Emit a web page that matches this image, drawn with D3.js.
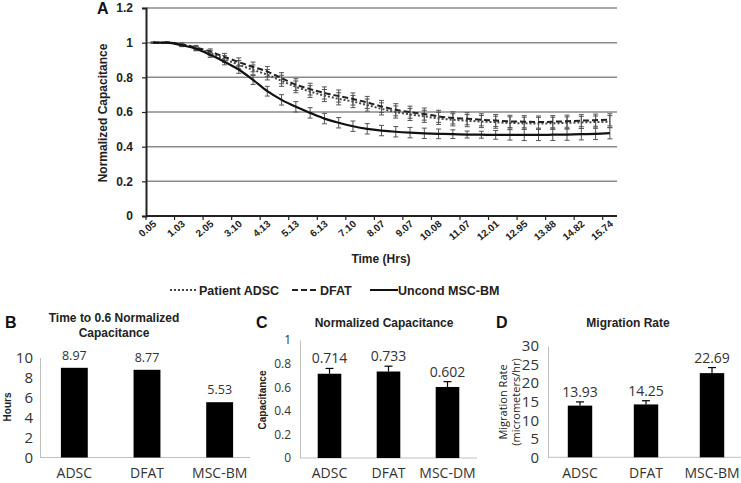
<!DOCTYPE html>
<html><head><meta charset="utf-8">
<script src="https://cdn.jsdelivr.net/npm/d3@7"></script>
<style>body{margin:0;background:#fff}svg{display:block}</style>
</head><body><svg id="c" width="741" height="483"></svg>
<script>
// ---------- Panel A data ----------
const times = [0.05,0.54,1.03,1.54,2.05,2.58,3.10,3.62,4.13,4.63,5.13,5.63,6.13,6.62,7.10,7.59,8.07,8.57,9.07,9.58,10.08,10.58,11.07,11.54,12.01,12.48,12.95,13.42,13.88,14.35,14.82,15.28,15.74];
const adscValues = [1.0,1.0,0.988,0.968,0.94,0.905,0.873,0.843,0.815,0.78,0.745,0.718,0.695,0.676,0.66,0.64,0.618,0.6,0.586,0.575,0.563,0.555,0.55,0.545,0.541,0.537,0.535,0.534,0.535,0.537,0.54,0.542,0.544];
const adscErr = [0.003,0.004,0.008,0.012,0.016,0.02,0.024,0.028,0.03,0.032,0.034,0.034,0.035,0.035,0.035,0.035,0.035,0.035,0.035,0.035,0.035,0.035,0.035,0.035,0.035,0.035,0.035,0.035,0.035,0.035,0.035,0.035,0.035];
const dfatValues = [1.0,1.0,0.99,0.972,0.948,0.918,0.888,0.86,0.833,0.795,0.758,0.732,0.71,0.692,0.675,0.655,0.632,0.613,0.599,0.588,0.575,0.566,0.561,0.555,0.551,0.546,0.544,0.542,0.544,0.547,0.55,0.553,0.555];
const dfatErr = [0.003,0.004,0.008,0.012,0.016,0.02,0.024,0.028,0.03,0.032,0.034,0.034,0.035,0.035,0.035,0.035,0.035,0.035,0.035,0.035,0.035,0.035,0.035,0.035,0.035,0.035,0.035,0.035,0.035,0.035,0.035,0.035,0.035];
const mscValues = [1.0,1.0,0.985,0.965,0.93,0.89,0.845,0.785,0.72,0.67,0.63,0.595,0.562,0.538,0.518,0.503,0.493,0.486,0.481,0.477,0.474,0.472,0.47,0.469,0.468,0.468,0.468,0.468,0.469,0.47,0.472,0.474,0.478];
const mscErr = [0.003,0.004,0.008,0.012,0.015,0.018,0.022,0.026,0.028,0.03,0.03,0.03,0.03,0.03,0.03,0.03,0.03,0.03,0.03,0.03,0.028,0.025,0.02,0.02,0.025,0.03,0.033,0.033,0.033,0.033,0.033,0.033,0.033];
const yTicksA = [0,0.2,0.4,0.6,0.8,1,1.2];
const seriesNames = ["Patient ADSC","DFAT","Uncond MSC-BM"];

// ---------- Panels B, C, D data ----------
const catsB = ["ADSC","DFAT","MSC-BM"];
const valsB = [8.97,8.77,5.53];
const ticksB = [0,2,4,6,8,10];
const catsC = ["ADSC","DFAT","MSC-DM"];
const valsC = [0.714,0.733,0.602];
const errC = [0.045,0.045,0.045];
const ticksC = [0,0.2,0.4,0.6,0.8,1];
const catsD = ["ADSC","DFAT","MSC-BM"];
const valsD = [13.93,14.25,22.69];
const errD = [1.0,1.0,1.5];
const ticksD = [0,5,10,15,20,25,30];

const svg = d3.select("#c");
const ARIAL = "'Liberation Sans', Arial, sans-serif";
const CAL = "'Open Sans', Calibri, sans-serif";

// ================= Panel A =================
const xA = d3.scaleBand().domain(d3.range(times.length)).range([146, 617]).paddingInner(0).paddingOuter(0);
const yA = d3.scaleLinear().domain([0, 1.2]).range([216, 8]);
const gA = svg.append("g");

gA.selectAll("line.grid").data(yTicksA.filter(d => d > 0)).join("line")
  .attr("x1", 146).attr("x2", 617).attr("y1", d => yA(d)).attr("y2", d => yA(d))
  .attr("stroke", "#8a8a8a").attr("stroke-width", 1.5);

const yAxisA = d3.axisLeft(yA).tickValues(yTicksA).tickSize(4).tickPadding(9)
  .tickFormat(d => d === 0 ? "0" : d3.format("")(d));
const gy = gA.append("g").attr("transform", "translate(146,0)").call(yAxisA);
gy.select(".domain").attr("stroke", "#222").attr("stroke-width", 2);
gy.selectAll(".tick line").attr("stroke", "#222").attr("stroke-width", 1.2);
gy.selectAll("text").attr("font-family", ARIAL).attr("font-weight", "bold").attr("font-size", 12).attr("fill", "#222");

const xAxisA = d3.axisBottom(xA).tickValues(d3.range(0, times.length, 2)).tickSize(4).tickFormat("");
const gx = gA.append("g").attr("transform", "translate(0,216)").call(xAxisA);
gx.select(".domain").attr("stroke", "#222").attr("stroke-width", 2).attr("d", "M146,0H617");
gx.selectAll(".tick").attr("transform", d => `translate(${xA(d)},0)`);
gx.selectAll(".tick line").attr("stroke", "#222").attr("stroke-width", 1.2);
gA.selectAll("text.xl").data(d3.range(0, times.length, 2)).join("text")
  .attr("transform", d => `translate(${xA(d) + xA.bandwidth()/2 + 4},${225}) rotate(-40)`)
  .attr("text-anchor", "end").attr("font-family", ARIAL).attr("font-weight", "bold")
  .attr("font-size", 10).attr("fill", "#222")
  .text(d => times[d].toFixed(2));

gA.append("text").attr("transform", "translate(107,113) rotate(-90)").attr("text-anchor", "middle")
  .attr("font-family", ARIAL).attr("font-weight", "bold").attr("font-size", 12).attr("fill", "#222")
  .text("Normalized Capacitance");
gA.append("text").attr("x", 381).attr("y", 263).attr("text-anchor", "middle")
  .attr("font-family", ARIAL).attr("font-weight", "bold").attr("font-size", 12).attr("fill", "#222")
  .text("Time (Hrs)");
gA.append("text").attr("x", 97).attr("y", 14).attr("font-family", ARIAL).attr("font-weight", "bold")
  .attr("font-size", 16).attr("fill", "#111").text("A");

const series = [
  {name: seriesNames[0], vals: adscValues, err: adscErr, dash: "2,2", color: "#444", w: 2},
  {name: seriesNames[1], vals: dfatValues, err: dfatErr, dash: "6,3", color: "#222", w: 2},
  {name: seriesNames[2], vals: mscValues, err: mscErr, dash: null, color: "#111", w: 2.2}
];
const cx = i => xA(i) + xA.bandwidth() / 2;
series.forEach(s => {
  const g = gA.append("g");
  s.vals.forEach((v, i) => {
    const e = s.err[i];
    g.append("line").attr("x1", cx(i)).attr("x2", cx(i)).attr("y1", yA(v - e)).attr("y2", yA(v + e))
      .attr("stroke", "#555").attr("stroke-width", 1);
    [v - e, v + e].forEach(t => g.append("line").attr("x1", cx(i) - 2.5).attr("x2", cx(i) + 2.5)
      .attr("y1", yA(t)).attr("y2", yA(t)).attr("stroke", "#555").attr("stroke-width", 1));
  });
  const line = d3.line().x((d, i) => cx(i)).y(d => yA(d)).curve(d3.curveMonotoneX);
  const p = g.append("path").attr("d", line(s.vals)).attr("fill", "none")
    .attr("stroke", s.color).attr("stroke-width", s.w);
  if (s.dash) p.attr("stroke-dasharray", s.dash);
});

const legend = [
  {x1: 170, x2: 196, tx: 199, dash: "2,2", color: "#444", name: seriesNames[0]},
  {x1: 292, x2: 317, tx: 320, dash: "6,3", color: "#222", name: seriesNames[1]},
  {x1: 370, x2: 398, tx: 398, dash: null, color: "#111", name: seriesNames[2]}
];
legend.forEach(l => {
  const ln = svg.append("line").attr("x1", l.x1).attr("x2", l.x2).attr("y1", 290).attr("y2", 290)
    .attr("stroke", l.color).attr("stroke-width", 2);
  if (l.dash) ln.attr("stroke-dasharray", l.dash);
  svg.append("text").attr("x", l.tx).attr("y", 294.5).attr("font-family", ARIAL).attr("font-weight", "bold")
    .attr("font-size", 12.5).attr("fill", "#222").text(l.name);
});

// ================= Bar panels =================
function barPanel(cfg) {
  const g = svg.append("g");
  const x = d3.scaleBand().domain(cfg.cats).range(cfg.xr).paddingInner(cfg.pad).paddingOuter(cfg.pad / 2);
  const y = d3.scaleLinear().domain(cfg.ydom).range(cfg.yr);
  const ay = d3.axisLeft(y).tickValues(cfg.ticks).tickSize(0).tickPadding(cfg.tp).tickFormat(cfg.fmt);
  const gy = g.append("g").attr("transform", `translate(${cfg.axisX},0)`).call(ay);
  gy.select(".domain").attr("stroke", "#bfbfbf").attr("stroke-width", 1);
  gy.selectAll("text").attr("font-family", CAL).attr("font-size", cfg.tfs).attr("fill", "#333");
  g.append("line").attr("x1", cfg.axisX).attr("x2", cfg.axisEnd).attr("y1", y(0)).attr("y2", y(0))
    .attr("stroke", "#bfbfbf").attr("stroke-width", 1);
  g.selectAll("rect").data(cfg.vals).join("rect")
    .attr("x", (d, i) => x(cfg.cats[i])).attr("width", x.bandwidth())
    .attr("y", d => y(d)).attr("height", d => y(0) - y(d)).attr("fill", "#000");
  if (cfg.err) {
    cfg.vals.forEach((v, i) => {
      const c = x(cfg.cats[i]) + x.bandwidth() / 2;
      g.append("line").attr("x1", c).attr("x2", c).attr("y1", y(v)).attr("y2", y(v + cfg.err[i]))
        .attr("stroke", "#000").attr("stroke-width", 1.2);
      g.append("line").attr("x1", c - 4).attr("x2", c + 4).attr("y1", y(v + cfg.err[i])).attr("y2", y(v + cfg.err[i]))
        .attr("stroke", "#000").attr("stroke-width", 1.2);
    });
  }
  g.selectAll("text.val").data(cfg.vals).join("text")
    .attr("x", (d, i) => x(cfg.cats[i]) + x.bandwidth() / 2)
    .attr("y", (d, i) => y(d + (cfg.err ? cfg.err[i] : 0)) - cfg.lblOff)
    .attr("text-anchor", "middle").attr("font-family", CAL).attr("font-size", cfg.vfs).attr("fill", "#333")
    .text(d => cfg.vfmt(d));
  g.selectAll("text.cat").data(cfg.cats).join("text")
    .attr("x", d => x(d) + x.bandwidth() / 2).attr("y", cfg.catY)
    .attr("text-anchor", "middle").attr("font-family", CAL).attr("font-size", cfg.cfs).attr("fill", "#333")
    .text(d => d);
  cfg.title.forEach((t, k) => g.append("text").attr("x", cfg.titleX).attr("y", cfg.titleY + k * 15)
    .attr("text-anchor", "middle").attr("font-family", ARIAL).attr("font-weight", "bold")
    .attr("font-size", 12).attr("fill", "#222").text(t));
  g.append("text").attr("x", cfg.letterX).attr("y", 328).attr("font-family", ARIAL).attr("font-weight", "bold")
    .attr("font-size", 16).attr("fill", "#111").text(cfg.letter);
  cfg.ylab.forEach((t, k) => g.append("text")
    .attr("transform", `translate(${cfg.ylabX + k * 13},${cfg.ylabY}) rotate(-90)`).attr("text-anchor", "middle")
    .attr("font-family", cfg.ylabBold ? ARIAL : CAL).attr("font-weight", cfg.ylabBold ? "bold" : "normal")
    .attr("font-size", cfg.ylabFs).attr("fill", "#222").text(t));
}

barPanel({cats: catsB, vals: valsB, err: null, xr: [38, 256], pad: 0.63, ydom: [0, 10], yr: [457.5, 357.5],
  ticks: ticksB, fmt: d3.format("d"), tp: 7, axisX: 40, axisEnd: 250, tfs: 15, vfs: 12.5, vfmt: d3.format(".2f"),
  lblOff: 8, catY: 478, cfs: 14, title: ["Time to 0.6 Normalized", "Capacitance"], titleX: 114, titleY: 322,
  letter: "B", letterX: 5, ylab: ["Hours"], ylabX: 11, ylabY: 407, ylabBold: true, ylabFs: 10});

barPanel({cats: catsC, vals: valsC, err: errC, xr: [300, 477], pad: 0.6, ydom: [0, 1], yr: [458, 340],
  ticks: ticksC, fmt: d => d === 0 ? "0" : d === 1 ? "1" : d3.format(".1f")(d), tp: 9, axisX: 300, axisEnd: 477, tfs: 12,
  vfs: 14, vfmt: d3.format(".3f"), lblOff: 5, catY: 478, cfs: 14, title: ["Normalized Capacitance"], titleX: 384,
  titleY: 327, letter: "C", letterX: 256, ylab: ["Capacitance"], ylabX: 266, ylabY: 400, ylabBold: true, ylabFs: 10});

barPanel({cats: catsD, vals: valsD, err: errD, xr: [547, 745], pad: 0.63, ydom: [0, 30], yr: [457.3, 346],
  ticks: ticksD, fmt: d3.format("d"), tp: 9, axisX: 548, axisEnd: 741, tfs: 15, vfs: 14, vfmt: d3.format(".2f"),
  lblOff: 5, catY: 478, cfs: 14, title: ["Migration Rate"], titleX: 628, titleY: 327, letter: "D", letterX: 496,
  ylab: ["Migration Rate", "(micrometers/hr)"], ylabX: 507, ylabY: 402, ylabBold: false, ylabFs: 11});
</script></body></html>
